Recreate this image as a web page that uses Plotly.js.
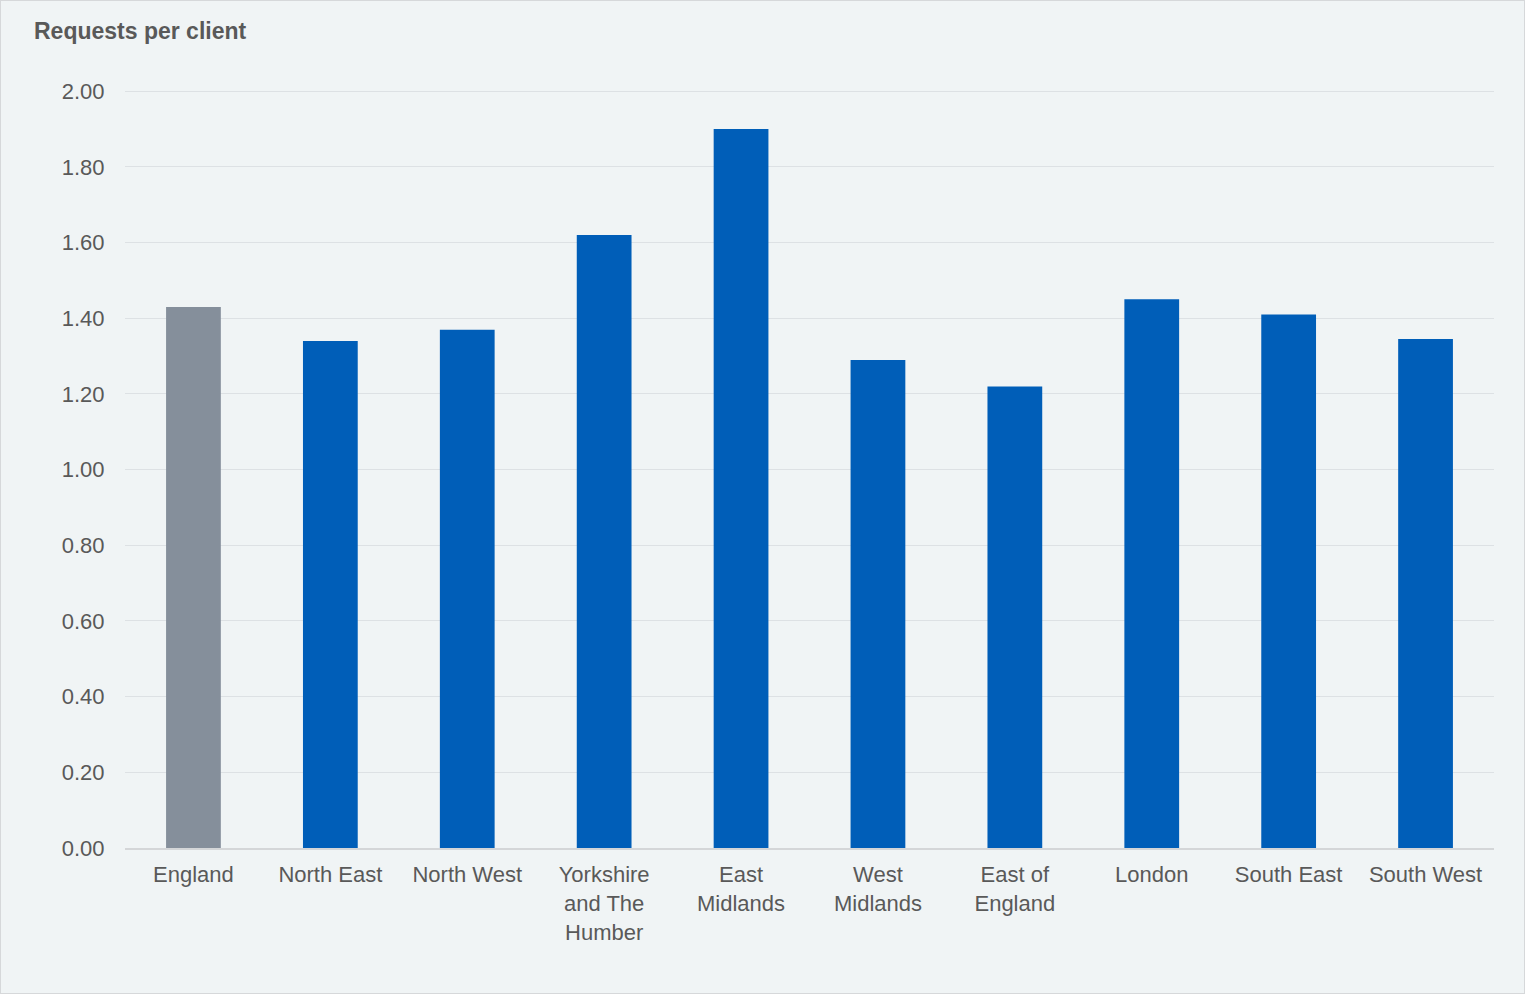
<!DOCTYPE html>
<html>
<head>
<meta charset="utf-8">
<script src="https://cdn.plot.ly/plotly-3.0.1.min.js"></script>
<style>
  html, body { margin: 0; padding: 0; background: #f0f4f5; }
  #chart { width: 1525px; height: 994px; box-sizing: border-box; border: 1px solid #d6d8da; }
</style>
</head>
<body>
<div id="chart"></div>
<script>
// Regions and their requests per client
const regions = ["England", "North East", "North West", "Yorkshire<br>and The<br>Humber", "East<br>Midlands",
                 "West<br>Midlands", "East of<br>England", "London", "South East", "South West"];
const requestsPerClient = [1.43, 1.34, 1.37, 1.62, 1.90, 1.29, 1.22, 1.45, 1.41, 1.345];
const tickValues = [0, 0.2, 0.4, 0.6, 0.8, 1.0, 1.2, 1.4, 1.6, 1.8, 2.0];
const tickLabels = ["0.00", "0.20", "0.40", "0.60", "0.80", "1.00", "1.20", "1.40", "1.60", "1.80", "2.00"];

// National total in grey, regions in blue
const barColors = regions.map(r => r === "England" ? "#858f9b" : "#005eb8");

const trace = {
  type: "bar",
  x: regions,
  y: requestsPerClient,
  marker: { color: barColors, line: { width: 0 } },
  hoverinfo: "x+y"
};

const layout = {
  width: 1523,
  height: 992,
  paper_bgcolor: "#f0f4f5",
  plot_bgcolor: "#f0f4f5",
  margin: { l: 124, r: 30, t: 88, b: 145 },
  bargap: 0.6,
  showlegend: false,
  font: { family: "Liberation Sans, Arial, sans-serif", size: 22, color: "#595959" },
  title: {
    text: "<b>Requests per client</b>",
    font: { family: "Liberation Sans, Arial, sans-serif", size: 23, color: "#595959" },
    xref: "container", x: 33 / 1523, xanchor: "left",
    yref: "container", y: 1 - 30 / 992, yanchor: "middle"
  },
  xaxis: {
    type: "category",
    showgrid: false,
    showline: true,
    linecolor: "#d4d6d8",
    linewidth: 2,
    ticks: "outside",
    ticklen: 6,
    tickcolor: "rgba(0,0,0,0)",
    tickfont: { size: 22, color: "#595959" }
  },
  yaxis: {
    // top of range sits a hair above 2.00 so its gridline is kept
    range: [0, 2.006],
    tickvals: tickValues,
    ticktext: tickLabels,
    showgrid: true,
    gridcolor: "#dde1e4",
    gridwidth: 1,
    zeroline: false,
    showline: false,
    ticks: "outside",
    ticklen: 15,
    tickcolor: "rgba(0,0,0,0)",
    tickfont: { size: 22, color: "#595959" }
  }
};

Plotly.newPlot("chart", [trace], layout, { displayModeBar: false, staticPlot: true });
</script>
</body>
</html>
